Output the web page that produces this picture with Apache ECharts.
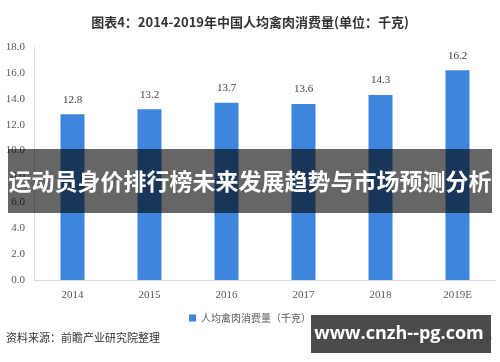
<!DOCTYPE html>
<html><head><meta charset="utf-8">
<script src="https://cdn.jsdelivr.net/npm/echarts@6/dist/echarts.min.js"></script>
<style>html,body{margin:0;padding:0;background:#fff}#c{width:500px;height:362px}</style>
</head><body><div id="c"></div>
<script>
var categories = ['2014','2015','2016','2017','2018','2019E'];
var values = [12.8, 13.2, 13.7, 13.6, 14.3, 16.2];
var seriesName = '人均禽肉消费量（千克）';
var titleText = '图表4：2014-2019年中国人均禽肉消费量(单位：千克)';
var bannerText = '运动员身价排行榜未来发展趋势与市场预测分析';
var sourceText = '资料来源：前瞻产业研究院整理';
var siteText = 'www.cnzh--pg.com';

var chart = echarts.init(document.getElementById('c'), null, {renderer:'canvas'});
chart.setOption({
  animation:false,
  backgroundColor:'#fff',
  title:{text:titleText,left:'center',top:11,textStyle:{fontSize:13,fontWeight:'bold',color:'#333',fontFamily:'Noto Sans CJK SC'}},
  legend:{data:[seriesName],left:'center',top:308,itemWidth:7,itemHeight:7,icon:'rect',itemGap:4,
    textStyle:{fontSize:10,color:'#595959',fontFamily:'Noto Sans CJK SC'}},
  grid:{left:34,right:4,top:47,bottom:82},
  xAxis:{type:'category',data:categories,
    axisLine:{lineStyle:{color:'#d9d9d9'}},axisTick:{show:false},
    axisLabel:{color:'#595959',fontSize:11,fontFamily:'Liberation Serif',margin:10}},
  yAxis:{type:'value',min:0,max:18,interval:2,
    axisLine:{show:true,lineStyle:{color:'#d9d9d9'}},axisTick:{show:false},splitLine:{show:false},
    axisLabel:{color:'#595959',fontSize:11,fontFamily:'Liberation Serif',margin:9,formatter:function(v){return v.toFixed(1);}}},
  series:[{name:seriesName,type:'bar',data:values,barWidth:24,itemStyle:{color:'#3f85dd'},
    label:{show:true,position:'top',distance:9,color:'#404040',fontSize:11,fontFamily:'Liberation Serif',formatter:function(p){return p.value.toFixed(1);}}}],
  graphic:[
    {type:'text',z:100,left:6,top:332,style:{text:sourceText,fontSize:11,fill:'#333',fontFamily:'Noto Sans CJK SC'}},
    {type:'text',z:100,left:404,top:335,style:{text:'@前瞻经济学人APP',fontSize:10,fill:'#999',fontFamily:'Noto Sans CJK SC'}},
    {type:'rect',z:100,shape:{x:8,y:149,width:484,height:64},style:{fill:'rgba(0,0,0,0.6)'}},
    {type:'text',z:101,x:250,y:181,style:{text:bannerText,fontSize:23,fontWeight:'bold',fill:'#fff',align:'center',verticalAlign:'middle',fontFamily:'Noto Sans CJK SC'}},
    {type:'rect',z:100,shape:{x:311,y:315,width:180,height:38},style:{fill:'rgba(60,60,60,0.92)'}},
    {type:'text',z:101,x:399,y:334,style:{text:siteText,fontSize:18,fontWeight:'bold',fill:'#fff',align:'center',verticalAlign:'middle',fontFamily:'Open Sans'}}
  ]
});
</script></body></html>
